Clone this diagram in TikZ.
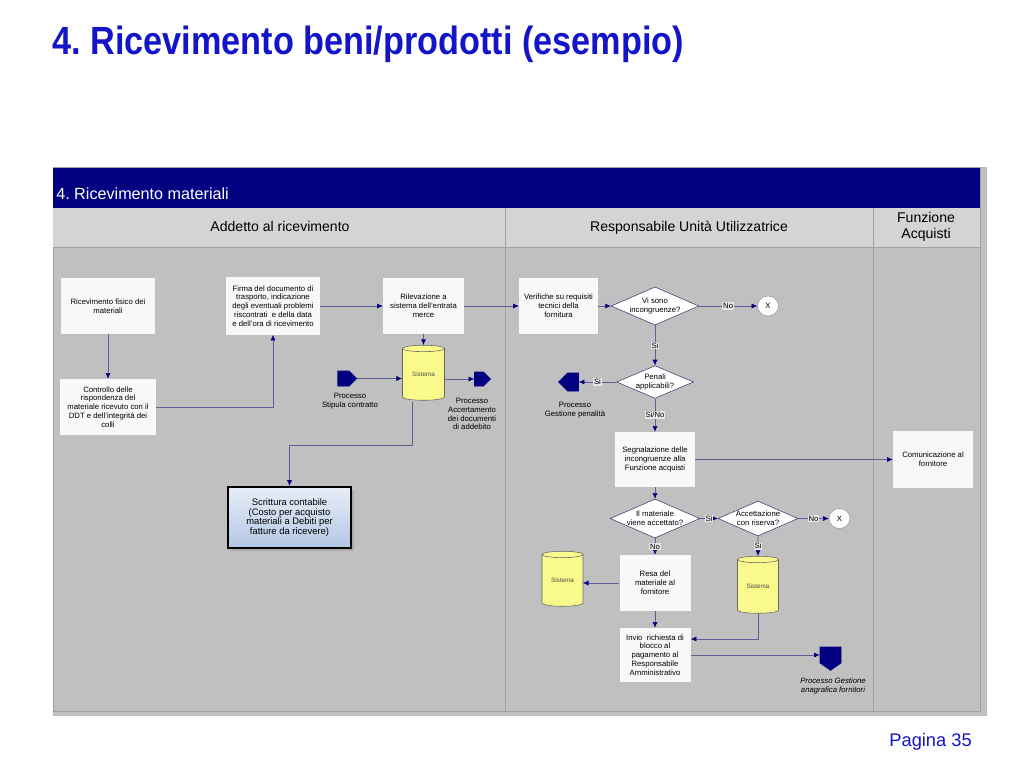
\documentclass[tikz,border=0pt]{standalone}
\usepackage{fontspec}
\setmainfont{Liberation Sans}
\newfontfamily\titlefont[FakeStretch=0.87]{Liberation Sans}
\usetikzlibrary{arrows.meta,shapes.geometric,shapes.symbols,shadows,calc}
\frenchspacing

\definecolor{titleblue}{RGB}{20,20,200}
\definecolor{navy}{RGB}{0,0,128}
\definecolor{panelgray}{RGB}{192,192,192}
\definecolor{laneheadgray}{RGB}{212,212,212}
\definecolor{framegray}{RGB}{160,160,160}
\definecolor{boxwhite}{RGB}{248,248,248}
\definecolor{flowline}{RGB}{95,95,150}
\definecolor{diaborder}{RGB}{60,60,120}
\definecolor{sysyellow}{RGB}{250,250,140}
\definecolor{labelbg}{RGB}{232,232,232}
\definecolor{scrtop}{RGB}{232,238,248}
\definecolor{scrbottom}{RGB}{178,198,228}

\begin{document}
\begin{tikzpicture}[x=0.025cm,y=-0.025cm,>={Latex[length=4pt,width=3.6pt,color=navy]},
    every node/.style={font=\fontsize{5.5}{6.3}\selectfont},
    task/.style={rectangle,fill=boxwhite,align=center,inner sep=1pt,minimum width=20mm,minimum height=14mm},
    check/.style={diamond,draw=diaborder,fill=white,align=center,inner sep=0pt,aspect=2.3,minimum width=19.25mm,minimum height=8.25mm},
    sistema/.style={cylinder,shape border rotate=90,aspect=0.28,draw=black!60,fill=sysyellow,inner sep=0pt,minimum width=10.5mm,minimum height=13.75mm,font=\fontsize{4.5}{5}\selectfont,text=black!70},
    proc/.style={signal,fill=navy,draw=navy,inner sep=0pt,minimum width=4.75mm,minimum height=3.75mm},
    stopnode/.style={ellipse,draw=black!40,fill=white,inner sep=0pt,minimum width=5.25mm,minimum height=5mm},
    yn/.style={fill=labelbg,inner sep=0.6pt},
    flow/.style={draw=flowline,->},
    lanehead/.style={font=\fontsize{10}{11.2}\selectfont,align=center}]

    \useasboundingbox (0,0) rectangle (1024,768);

    % swimlane frame
    \fill[panelgray] (53,167) rectangle (987,716);
    \draw[framegray] (53,167) rectangle (980,711);
    \fill[navy] (53,168) rectangle (980,208);
    \fill[laneheadgray] (53,208) rectangle (980,247);
    \draw[framegray] (53,247) -- (980,247);
    \draw[framegray] (505,208) -- (505,711);
    \draw[framegray] (873,208) -- (873,711);

    \node[anchor=base west,inner sep=0pt,text=titleblue,font=\titlefont\bfseries\fontsize{28}{30}\selectfont] (title) at (52,55) {4. Ricevimento beni/prodotti (esempio)};
    \node[anchor=base east,inner sep=0pt,text=titleblue,font=\fontsize{13}{14}\selectfont] (page) at (972,746) {Pagina 35};
    \node[anchor=base west,inner sep=0pt,text=white,font=\fontsize{11.5}{12}\selectfont] (head) at (56,199) {4. Ricevimento materiali};
    \node[lanehead,anchor=base] (lane1) at (280,231) {Addetto al ricevimento};
    \node[lanehead,anchor=base] (lane2) at (689,231) {Responsabile Unità Utilizzatrice};
    \node[lanehead] (lane3) at (926,227) {Funzione\\Acquisti};

    % Addetto al ricevimento
    \node[task,minimum width=23.5mm,minimum height=13.75mm] (ric)   at (108,306)   {Ricevimento fisico dei\\materiali};
    \node[task,minimum width=24mm]                          (ctrl)  at (108,407)   {Controllo delle\\rispondenza del\\materiale ricevuto con il\\DDT e dell'integrità dei\\colli};
    \node[task,minimum width=23.5mm,minimum height=14.25mm] (firma) at (273,306)   {Firma del documento di\\trasporto, indicazione\\degli eventuali problemi\\riscontrati~ e della data\\e dell'ora di ricevimento};
    \node[task,minimum width=20.25mm,minimum height=13.75mm](ril)   at (423.5,306) {Rilevazione a\\sistema dell'entrata\\merce};
    \node[sistema] (sis1) at (423.5,374.5) {Sistema};
    \node[proc,signal to=east] (stip) at (343.5,378.5) {};
    \node[align=center,anchor=north] (stiplab) at (350,388) {Processo\\Stipula contratto};
    \node[proc,signal to=east,minimum width=4mm,minimum height=3.5mm] (acc) at (479,379) {};
    \node[align=center,anchor=north] (acclab) at (472,393) {Processo\\Accertamento\\dei documenti\\di addebito};
    \node[task,draw=black,line width=1.6pt,top color=scrtop,bottom color=scrbottom,minimum width=30.75mm,minimum height=15.25mm,
          drop shadow={shadow xshift=2pt,shadow yshift=-2pt,opacity=0.35},font=\fontsize{6.7}{6.9}\selectfont] (scr) at (289.5,517.5)
          {Scrittura contabile\\(Costo per acquisto\\materiali a Debiti per\\fatture da ricevere)};

    % Responsabile Unita' Utilizzatrice
    \node[task,minimum width=19.75mm] (ver) at (558.5,306) {Verifiche su requisiti\\tecnici della\\fornitura};
    \node[check] (d1) at (655,306) {Vi sono\\incongruenze?};
    \node[stopnode] (x1) at (768,306) {X};
    \node[check,minimum height=8mm] (d2) at (655,382) {Penali\\applicabili?};
    \node[proc,signal to=west,minimum width=5mm,minimum height=4.5mm] (pen) at (573,382) {};
    \node[align=center,anchor=north] (penlab) at (575,397) {Processo\\Gestione penalità};
    \node[task,minimum height=13.75mm] (seg) at (655,459.5) {Segnalazione delle\\incongruenze alla\\Funzione acquisti};
    \node[check,minimum width=20mm,minimum height=8.75mm] (d3) at (655,518.5) {Il materiale\\viene accettato?};
    \node[check,minimum width=20mm,minimum height=8.75mm] (d4) at (758,518.5) {Accettazione\\con riserva?};
    \node[stopnode] (x2) at (839.5,518.5) {X};
    \node[task,minimum width=17.75mm] (resa) at (655,583) {Resa del\\materiale al\\fornitore};
    \node[sistema,minimum width=10.25mm] (sis2) at (562.5,580.5) {Sistema};
    \node[sistema,minimum width=10.25mm,minimum height=14.25mm] (sis3) at (758,586.5) {Sistema};
    \node[task,minimum width=17.75mm,minimum height=13.5mm] (invio) at (655,655) {Invio~ richiesta di\\blocco al\\pagamento al\\Responsabile\\Amministrativo};
    \node[proc,signal to=south,signal pointer angle=110,minimum width=5.25mm,minimum height=4mm] (gest) at (830.5,655) {};
    \node[align=center,anchor=north,font=\itshape\fontsize{5.5}{6.3}\selectfont] (gestlab) at (833,673) {Processo Gestione\\anagrafica fornitori};

    % Funzione Acquisti
    \node[task] (com) at (933,459.5) {Comunicazione al\\fornitore};

    % connectors
    \draw[flow] (ric) -- (ctrl);
    \draw[flow] (ctrl) -| (firma);
    \draw[flow] (firma) -- (ril);
    \draw[flow] (ril) -- (ver);
    \draw[flow] (ril) -- (sis1);
    \draw[flow] (stip.east) -- ($(stip.east -| sis1.center)+(-21.5,0)$);
    \draw[flow] ($(acc.west -| sis1.center)+(21.5,0)$) -- (acc.west);
    \draw[flow] ($(sis1.center)+(-11,27.5)$) -- ++(0,43) -| (scr);
    \draw[flow] (ver) -- (d1);
    \draw[flow] (d1) -- node[yn]{No} (x1);
    \draw[flow] (d1) -- node[yn]{Si} (d2);
    \draw[flow] (d2) -- node[yn]{Si} (pen);
    \draw[flow] (d2) -- node[yn]{Si/No} (seg);
    \draw[flow] (seg) -- (com);
    \draw[flow] (seg) -- (d3);
    \draw[flow] (d3) -- node[yn]{Si} (d4);
    \draw[flow] (d4) -- node[yn]{No} (x2);
    \draw[flow] (d3) -- node[yn]{No} (resa);
    \draw[flow] (d4) -- node[yn]{Si} (sis3);
    \draw[flow] (resa.west) -- ($(resa.west -| sis2.center)+(20.5,0)$);
    \draw[flow] (resa) -- (invio);
    \draw[flow] (sis3) |- ($(invio.east)+(0,-16)$);
    \draw[flow] (invio.east) -- (gest);
\end{tikzpicture}
\end{document}
